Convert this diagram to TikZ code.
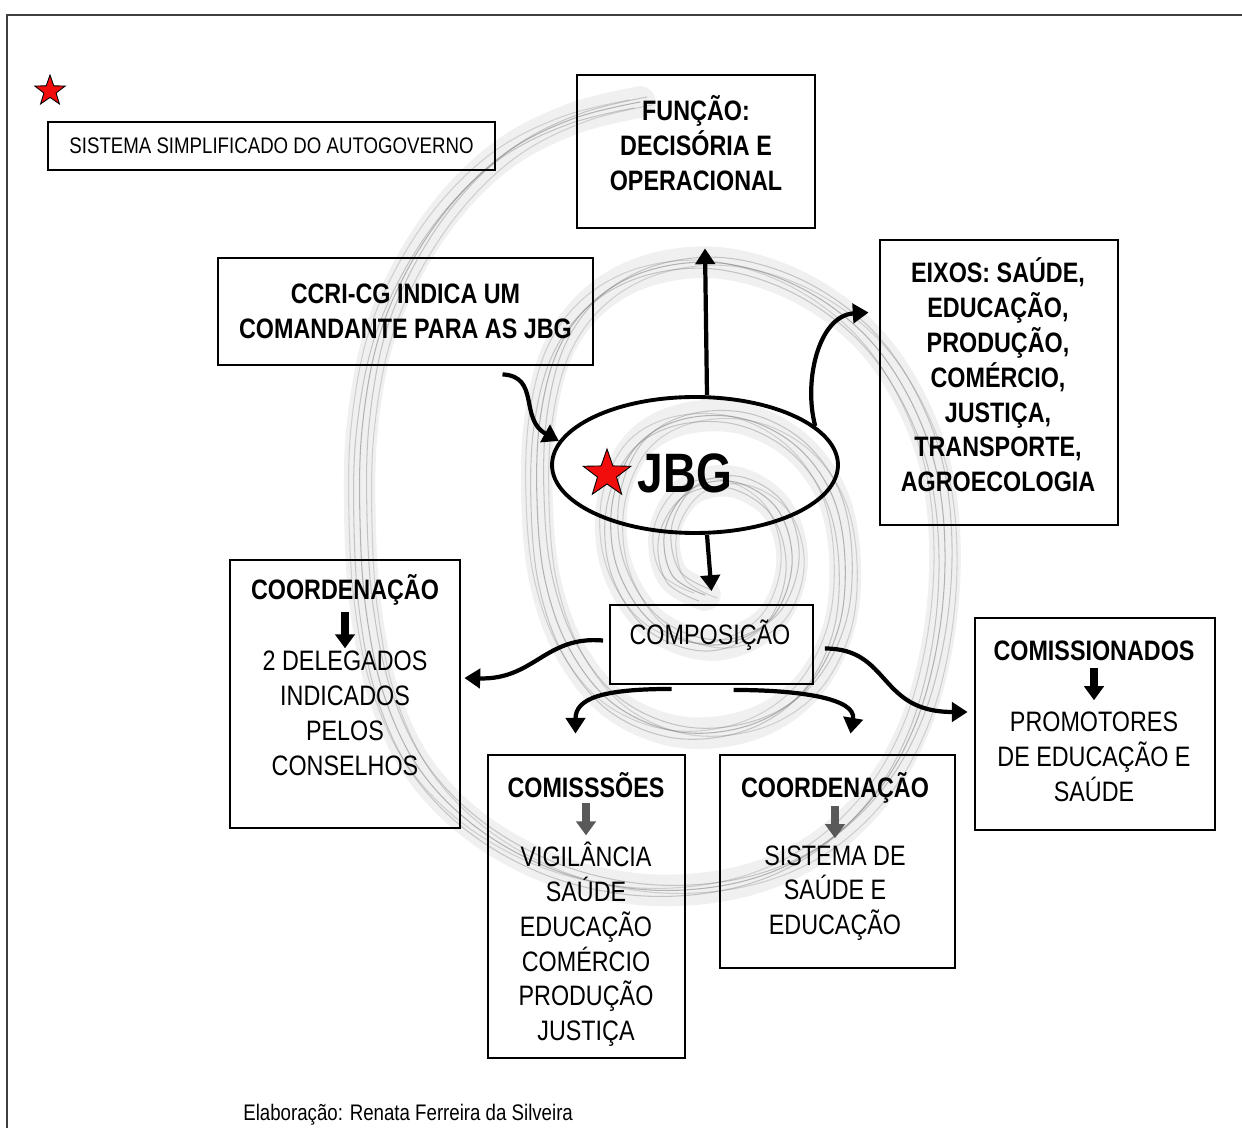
\documentclass[tikz,border=0pt]{standalone}
\usepackage{fontspec}
\setmainfont{Liberation Sans}[FakeStretch=0.83]
\definecolor{starred}{rgb}{0.95,0.05,0.05}
\definecolor{spiralgray}{rgb}{0.50,0.50,0.50}
\definecolor{framegray}{rgb}{0.25,0.25,0.25}
\usetikzlibrary{positioning, calc}
\usetikzlibrary{arrows.meta, shapes.geometric}
\newcommand{\boxfont}{\fontsize{16}{19.8}\selectfont}
\newcommand{\smallfont}{\fontsize{12.8}{15}\selectfont}

\tikzset{
  sketchbox/.style={draw, line width=1.6pt, inner sep=0pt},
  hdr/.style={font=\bfseries\boxfont, align=center, inner sep=0pt},
  body/.style={font=\boxfont, align=center, inner sep=0pt},
  flow/.style={line width=2.4pt, -{Triangle[length=9pt, width=11pt]}},
  blockarrow/.style={line width=4pt, -{Triangle[length=8pt, width=11pt]}},
  spiral/.style={spiralgray, line width=0.6pt, line cap=round},
  redstar/.style={star, star points=5, star point ratio=2.5, fill=starred,
    draw=black, line width=0.5pt, inner sep=0pt}
}

\begin{document}
\begin{tikzpicture}[x=0.02cm, y=-0.02cm]
\useasboundingbox (0,0) rectangle (1242,1128);

% spiral in the background
\draw[line width=18pt, black!6, line cap=round] plot[smooth, tension=0.6] coordinates {
  (640,102) (575,118) (510,150) (455,200) (410,265) (378,340) (362,430) (360,520)
  (366,610) (384,695) (420,770) (480,830) (560,872) (650,890) (740,882) (815,850)
  (875,795) (915,725) (938,640) (945,550) (935,465) (905,390) (860,330) (795,285)
  (720,263) (650,270) (595,300) (558,350) (540,420) (537,500) (545,580) (570,650)
  (615,705) (680,732) (750,725) (805,690) (838,630) (845,560) (832,495) (795,445)
  (740,418) (680,420) (635,448) (612,505) (618,570) (655,625) (715,645) (770,620)
  (792,565) (778,510) (735,482) (690,490) (665,530) (672,575) (705,595)};
\foreach \dx/\dy/\op in {0/0/0.55, 7/-5/0.4, -6/6/0.4, 12/3/0.3, -11/-2/0.3}
  \draw[spiral, opacity=\op, shift={(\dx,\dy)}] plot[smooth, tension=0.6] coordinates {
  (640,102) (575,118) (510,150) (455,200) (410,265) (378,340) (362,430) (360,520)
  (366,610) (384,695) (420,770) (480,830) (560,872) (650,890) (740,882) (815,850)
  (875,795) (915,725) (938,640) (945,550) (935,465) (905,390) (860,330) (795,285)
  (720,263) (650,270) (595,300) (558,350) (540,420) (537,500) (545,580) (570,650)
  (615,705) (680,732) (750,725) (805,690) (838,630) (845,560) (832,495) (795,445)
  (740,418) (680,420) (635,448) (612,505) (618,570) (655,625) (715,645) (770,620)
  (792,565) (778,510) (735,482) (690,490) (665,530) (672,575) (705,595)};

% frame
\draw[framegray, line width=1pt] (7,1128) -- (7,15) -- (1242,15);

% title
\node[redstar, minimum size=0.64cm] (logo) at (50,91) {};
\node[draw, line width=0.8pt, minimum width=8.94cm, minimum height=0.96cm,
  font=\smallfont] (title) at (271.5,146) {SISTEMA SIMPLIFICADO DO AUTOGOVERNO};

% upper boxes
\node[sketchbox, minimum width=4.76cm, minimum height=3.06cm] (func) at (696,151.5) {};
\node[hdr] (functx) at (696,143) {FUNÇÃO:\\DECISÓRIA E\\OPERACIONAL};

\node[sketchbox, minimum width=7.5cm, minimum height=2.14cm, font=\bfseries\boxfont,
  align=center] (ccri) at (405.5,311.5) {CCRI-CG INDICA UM\\COMANDANTE PARA AS JBG};

\node[sketchbox, minimum width=4.76cm, minimum height=5.7cm] (eixos) at (999,382.5) {};
\node[hdr] (eixostx) at (998,375)
  {EIXOS: SAÚDE,\\EDUCAÇÃO,\\PRODUÇÃO,\\COMÉRCIO,\\JUSTIÇA,\\TRANSPORTE,\\AGROECOLOGIA};

% JBG
\node[ellipse, draw, line width=2.2pt, minimum width=5.72cm, minimum height=2.72cm] (jbg) at (695,465) {};
\node[redstar, minimum size=1cm] (jbgstar) at (607,474) {};
\node[font=\bfseries\fontsize{31.6}{36}\selectfont, inner sep=0pt] (jbgtx) at (685,473) {JBG};

% composition
\node[draw, line width=1.1pt, minimum width=4.06cm, minimum height=1.58cm] (comp) at (711.5,644.5) {};
\node[body] (comptx) at (710,635) {COMPOSIÇÃO};

% lower boxes
\node[sketchbox, minimum width=4.6cm, minimum height=5.36cm] (coordL) at (345,694) {};
\node[hdr] (coordLhd) at (345,590) {COORDENAÇÃO};
\node[body] (coordLtx) at (345,713.5) {2 DELEGADOS\\INDICADOS\\PELOS\\CONSELHOS};

\node[sketchbox, minimum width=3.94cm, minimum height=6.06cm] (comis) at (586.5,906.5) {};
\node[hdr] (comishd) at (586,785) {COMISSSÕES};
\node[body] (comistx) at (586,944.5) {VIGILÂNCIA\\SAÚDE\\EDUCAÇÃO\\COMÉRCIO\\PRODUÇÃO\\JUSTIÇA};

\node[sketchbox, minimum width=4.7cm, minimum height=4.26cm] (coordR) at (837.5,861.5) {};
\node[hdr] (coordRhd) at (835,788) {COORDENAÇÃO};
\node[body] (coordRtx) at (835,893) {SISTEMA DE\\SAÚDE E\\EDUCAÇÃO};

\node[sketchbox, minimum width=4.8cm, minimum height=4.24cm] (comiss) at (1095,724) {};
\node[hdr] (comisshd) at (1094,651) {COMISSIONADOS};
\node[body] (comisstx) at (1094,757) {PROMOTORES\\DE EDUCAÇÃO E\\SAÚDE};

% arrows inside the boxes
\draw[blockarrow, shorten <=12.5pt, shorten >=37.1pt] (coordLhd.center) -- (coordLtx.center);
\draw[blockarrow, black!65, shorten <=10.2pt, shorten >=62.1pt] (comishd.center) -- (comistx.center);
\draw[blockarrow, black!65, shorten <=10.2pt, shorten >=31.2pt] (coordRhd.center) -- (coordRtx.center);
\draw[blockarrow, shorten <=9.6pt, shorten >=32.3pt] (comisshd.center) -- (comisstx.center);

% connectors
\draw[flow] ($(ccri.south)+(97,8)$) .. controls +(38,2) and +(-40,-22) .. (jbg.170);
\draw[flow] ($(jbg.north)+(12,0)$) -- ($(func.south)+(9,19)$);
\draw[flow] (jbg.18) .. controls +(-12,-45) and +(-50,3) .. ($(eixos.west)+(-10,-70)$);
\draw[flow] ($(jbg.south)+(12,0)$) -- ($(comp.north)+(0,-13)$);
\draw[flow] ($(comp.west)+(-6,-4)$) .. controls +(-58,-5) and +(70,2) .. ($(coordL.east)+(3,-16)$);
\draw[flow] ($(comp.south)+(-40,4)$) .. controls +(-70,0) and +(0,-35) .. ($(comis.north)+(-11,-20)$);
\draw[flow] ($(comp.south)+(22,5)$) .. controls +(67,0) and +(6,-35) .. ($(coordR.north)+(13,-20)$);
\draw[flow] ($(comp.east)+(11,4)$) .. controls +(66,0) and +(-90,0) .. ($(comiss.west)+(-6,-12)$);

% credit
\node[font=\smallfont, anchor=west, inner sep=0pt] (credit) at (243,1115)
  {Elaboração: Renata Ferreira da Silveira};
\end{tikzpicture}
\end{document}
